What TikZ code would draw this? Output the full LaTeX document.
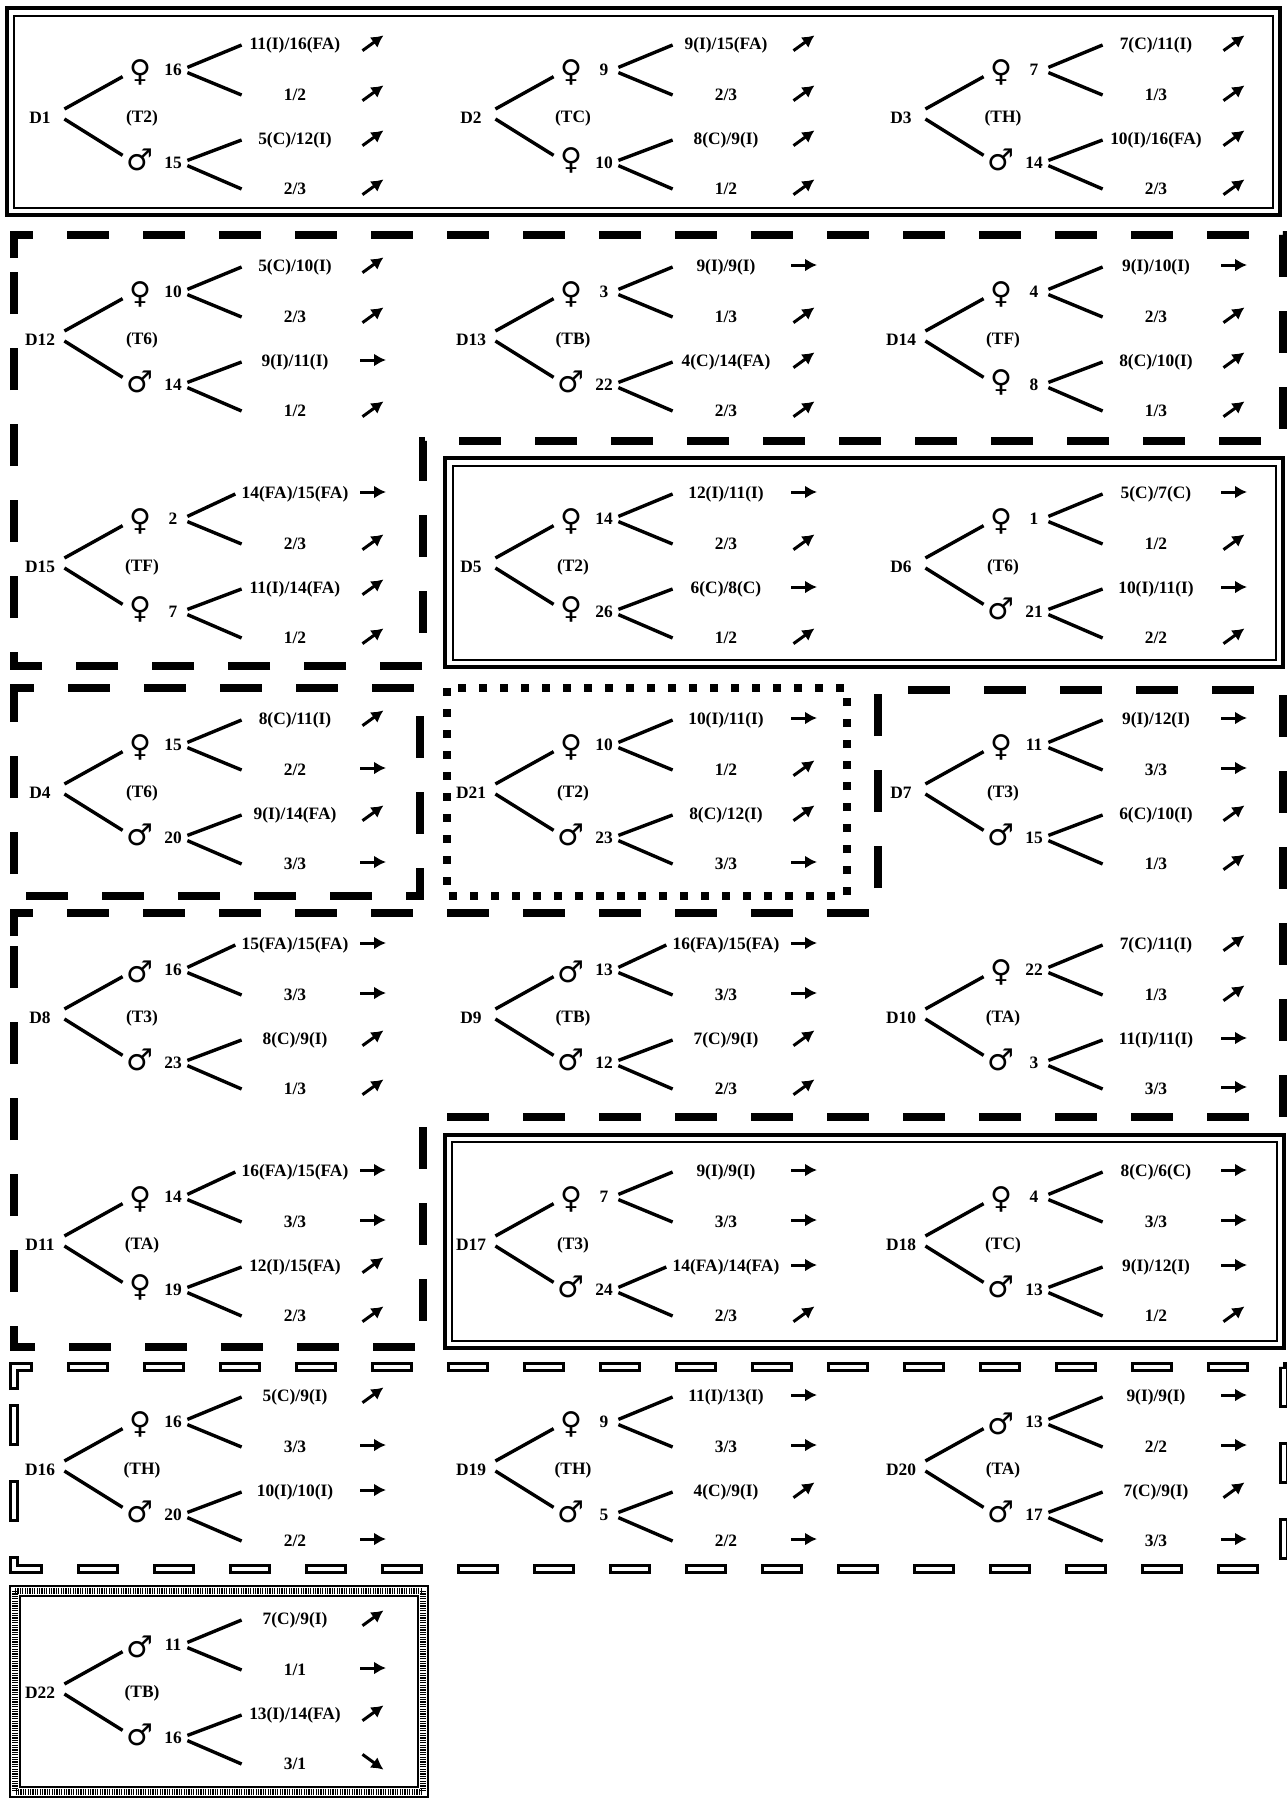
\documentclass[tikz,border=0pt]{standalone}
\usepackage{fontspec}
\setmainfont{Liberation Serif}
\newfontfamily\signfont{DejaVu Sans}
\usetikzlibrary{arrows.meta}

\newcommand{\fem}{{\signfont ♀}}
\newcommand{\mal}{{\signfont ♂}}
\newcommand{\rising}{-36}
\newcommand{\steady}{0}
\newcommand{\falling}{36}

% name, position, dog, test, upper sex, upper count, lower sex, lower count
\newcommand{\famtree}[8]{%
\begin{scope}[shift={#2}]
\node[dlab] (#1d) at (0,0) {#3};
\node[tlab] (#1t) at (102,0) {(#4)};
\node[sex] (#1s1) at (100,-46) {#5};
\node[tally] (#1n1) at (133,-48) {#6};
\node[sex] (#1s2) at (100,42) {#7};
\node[tally] (#1n2) at (133,45) {#8};
\draw[twig] ([yshift=4.5pt]#1d.east) -- (#1s1.195);
\draw[twig] ([yshift=-0.5pt]#1d.east) -- (#1s2.165);
\end{scope}}

% name, then four results each with its trend
\newcommand{\offspring}[9]{%
\begin{scope}[shift={(#1d.center)}]
\node[leaf] (#1l1) at (255,-73) {#2};
\node[leaf] (#1l2) at (255,-23) {#4};
\node[leaf] (#1l3) at (255,22) {#6};
\node[leaf] (#1l4) at (255,71) {#8};
\draw[twig] ([yshift=1.3pt]#1n1.east) -- (#1l1.west);
\draw[twig] ([yshift=-1.3pt]#1n1.east) -- (#1l2.west);
\draw[twig] ([yshift=1.3pt]#1n2.east) -- (#1l3.west);
\draw[twig] ([yshift=-1.3pt]#1n2.east) -- (#1l4.west);
\draw[trend] (333,-75) ++({#3+180}:13) -- ++(#3:26);
\draw[trend] (333,-25) ++({#5+180}:13) -- ++(#5:26);
\draw[trend] (333,20) ++({#7+180}:13) -- ++(#7:26);
\draw[trend] (333,69) ++({#9+180}:13) -- ++(#9:26);
\end{scope}}

\begin{document}
\begin{tikzpicture}[x=0.5pt,y=-0.5pt,
  every node/.style={font=\bfseries\fontsize{8.7}{10}\selectfont,inner sep=0pt},
  dlab/.style={minimum width=24pt},
  tlab/.style={},
  sex/.style={font=\signfont\fontsize{15}{15}\selectfont,minimum width=17pt,minimum height=15pt},
  tally/.style={minimum width=14pt},
  leaf/.style={minimum width=53pt,inner xsep=3pt},
  twig/.style={line width=1.7pt},
  trend/.style={line width=1.5pt,-{Latex[length=6pt,width=6.5pt]}},
  outerline/.style={line width=1.6pt},
  innerline/.style={line width=0.8pt},
  dashframe/.style={line width=4pt,dash pattern=on 21pt off 17pt},
  hollowframe/.style={line width=5pt,dash pattern=on 21pt off 17pt,
    postaction={draw=white,line width=2.2pt,dash pattern=on 0pt off 1.4pt on 18.2pt off 18.4pt}},
  dotframe/.style={line width=4pt,dash pattern=on 4pt off 6.5pt}]
\useasboundingbox (0,0) rectangle (1286,1799);

% frames
\draw[outerline] (7,8) rectangle (1280,215);
\draw[innerline] (14,16) rectangle (1273,208);
\draw[dashframe] (14,258) -- (14,235) -- (1283,235) -- (1283,441) -- (423,441) -- (423,666) -- (14,666) -- cycle;
\draw[outerline] (445,458) rectangle (1283,667);
\draw[innerline] (453,466) rectangle (1276,660);
\draw[dashframe] (14,710) -- (14,688) -- (420,688) -- (420,896) -- (14,896) -- cycle;
\draw[dotframe] (447,688) rectangle (847,896);
\draw[dashframe] (14,936) -- (14,913) -- (878,913) -- (878,690) -- (1283,690) -- (1283,1117) -- (423,1117) -- (423,1347) -- (14,1347) -- cycle;
\draw[outerline] (445,1135) rectangle (1284,1348);
\draw[innerline] (452,1142) rectangle (1277,1341);
\draw[hollowframe] (14,1390) -- (14,1367) -- (1284,1367) -- (1284,1569) -- (14,1569) -- cycle;
\draw[innerline] (10,1586) rectangle (428,1797);
\draw[line width=3pt,dash pattern=on 0.6pt off 0.6pt] (15,1591) rectangle (423,1792);
\draw[innerline] (20,1596) rectangle (418,1787);

% row one
\famtree{d1}{(40,118)}{D1}{T2}{\fem}{16}{\mal}{15}
\offspring{d1}{11(I)/16(FA)}{\rising}{1/2}{\rising}{5(C)/12(I)}{\rising}{2/3}{\rising}
\famtree{d2}{(471,118)}{D2}{TC}{\fem}{9}{\fem}{10}
\offspring{d2}{9(I)/15(FA)}{\rising}{2/3}{\rising}{8(C)/9(I)}{\rising}{1/2}{\rising}
\famtree{d3}{(901,118)}{D3}{TH}{\fem}{7}{\mal}{14}
\offspring{d3}{7(C)/11(I)}{\rising}{1/3}{\rising}{10(I)/16(FA)}{\rising}{2/3}{\rising}

% row two
\famtree{d12}{(40,340)}{D12}{T6}{\fem}{10}{\mal}{14}
\offspring{d12}{5(C)/10(I)}{\rising}{2/3}{\rising}{9(I)/11(I)}{\steady}{1/2}{\rising}
\famtree{d13}{(471,340)}{D13}{TB}{\fem}{3}{\mal}{22}
\offspring{d13}{9(I)/9(I)}{\steady}{1/3}{\rising}{4(C)/14(FA)}{\rising}{2/3}{\rising}
\famtree{d14}{(901,340)}{D14}{TF}{\fem}{4}{\fem}{8}
\offspring{d14}{9(I)/10(I)}{\steady}{2/3}{\rising}{8(C)/10(I)}{\rising}{1/3}{\rising}

% row three
\famtree{d15}{(40,567)}{D15}{TF}{\fem}{2}{\fem}{7}
\offspring{d15}{14(FA)/15(FA)}{\steady}{2/3}{\rising}{11(I)/14(FA)}{\rising}{1/2}{\rising}
\famtree{d5}{(471,567)}{D5}{T2}{\fem}{14}{\fem}{26}
\offspring{d5}{12(I)/11(I)}{\steady}{2/3}{\rising}{6(C)/8(C)}{\steady}{1/2}{\rising}
\famtree{d6}{(901,567)}{D6}{T6}{\fem}{1}{\mal}{21}
\offspring{d6}{5(C)/7(C)}{\steady}{1/2}{\rising}{10(I)/11(I)}{\steady}{2/2}{\rising}

% row four
\famtree{d4}{(40,793)}{D4}{T6}{\fem}{15}{\mal}{20}
\offspring{d4}{8(C)/11(I)}{\rising}{2/2}{\steady}{9(I)/14(FA)}{\rising}{3/3}{\steady}
\famtree{d21}{(471,793)}{D21}{T2}{\fem}{10}{\mal}{23}
\offspring{d21}{10(I)/11(I)}{\steady}{1/2}{\rising}{8(C)/12(I)}{\rising}{3/3}{\steady}
\famtree{d7}{(901,793)}{D7}{T3}{\fem}{11}{\mal}{15}
\offspring{d7}{9(I)/12(I)}{\steady}{3/3}{\steady}{6(C)/10(I)}{\rising}{1/3}{\rising}

% row five
\famtree{d8}{(40,1018)}{D8}{T3}{\mal}{16}{\mal}{23}
\offspring{d8}{15(FA)/15(FA)}{\steady}{3/3}{\steady}{8(C)/9(I)}{\rising}{1/3}{\rising}
\famtree{d9}{(471,1018)}{D9}{TB}{\mal}{13}{\mal}{12}
\offspring{d9}{16(FA)/15(FA)}{\steady}{3/3}{\steady}{7(C)/9(I)}{\rising}{2/3}{\rising}
\famtree{d10}{(901,1018)}{D10}{TA}{\fem}{22}{\mal}{3}
\offspring{d10}{7(C)/11(I)}{\rising}{1/3}{\rising}{11(I)/11(I)}{\steady}{3/3}{\steady}

% row six
\famtree{d11}{(40,1245)}{D11}{TA}{\fem}{14}{\fem}{19}
\offspring{d11}{16(FA)/15(FA)}{\steady}{3/3}{\steady}{12(I)/15(FA)}{\rising}{2/3}{\rising}
\famtree{d17}{(471,1245)}{D17}{T3}{\fem}{7}{\mal}{24}
\offspring{d17}{9(I)/9(I)}{\steady}{3/3}{\steady}{14(FA)/14(FA)}{\steady}{2/3}{\rising}
\famtree{d18}{(901,1245)}{D18}{TC}{\fem}{4}{\mal}{13}
\offspring{d18}{8(C)/6(C)}{\steady}{3/3}{\steady}{9(I)/12(I)}{\steady}{1/2}{\rising}

% row seven
\famtree{d16}{(40,1470)}{D16}{TH}{\fem}{16}{\mal}{20}
\offspring{d16}{5(C)/9(I)}{\rising}{3/3}{\steady}{10(I)/10(I)}{\steady}{2/2}{\steady}
\famtree{d19}{(471,1470)}{D19}{TH}{\fem}{9}{\mal}{5}
\offspring{d19}{11(I)/13(I)}{\steady}{3/3}{\steady}{4(C)/9(I)}{\rising}{2/2}{\steady}
\famtree{d20}{(901,1470)}{D20}{TA}{\mal}{13}{\mal}{17}
\offspring{d20}{9(I)/9(I)}{\steady}{2/2}{\steady}{7(C)/9(I)}{\rising}{3/3}{\steady}

% row eight
\famtree{d22}{(40,1693)}{D22}{TB}{\mal}{11}{\mal}{16}
\offspring{d22}{7(C)/9(I)}{\rising}{1/1}{\steady}{13(I)/14(FA)}{\rising}{3/1}{\falling}
\end{tikzpicture}
\end{document}
